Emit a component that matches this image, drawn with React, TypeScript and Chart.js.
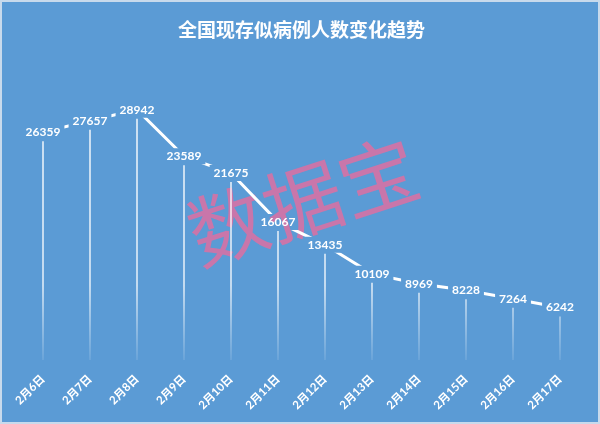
import React, { useEffect, useRef } from "react";
import { Chart, registerables } from "chart.js";

Chart.register(...registerables);

const categories = ["2月6日", "2月7日", "2月8日", "2月9日", "2月10日", "2月11日", "2月12日", "2月13日", "2月14日", "2月15日", "2月16日", "2月17日"];
const cases = [26359, 27657, 28942, 23589, 21675, 16067, 13435, 10109, 8969, 8228, 7264, 6242];
const titleText = "全国现存似病例人数变化趋势";
const watermarkText = "数据宝";

const BG = "#5b9bd5";
const LABEL_FONT = "bold 12px Lato, 'Open Sans', sans-serif";

const labelRects = (chart: any) => {
  const { ctx } = chart;
  const meta = chart.getDatasetMeta(0);
  const data = chart.data.datasets[0].data;
  ctx.save();
  ctx.font = LABEL_FONT;
  const rects = meta.data.map((p: any, i: number) => {
    const w = ctx.measureText(String(data[i])).width;
    return { x: p.x - w / 2 - 4, y: p.y - 8, w: w + 8, h: 16 };
  });
  ctx.restore();
  return rects;
};

const bgPlugin = {
  id: "bgPlugin",
  beforeDraw(chart: any) {
    const { ctx, width, height } = chart;
    ctx.save();
    ctx.fillStyle = BG;
    ctx.fillRect(0, 0, width, height);
    ctx.strokeStyle = "rgba(200,218,236,1)";
    ctx.lineWidth = 2;
    ctx.strokeRect(1, 1, width - 2, height - 2);
    ctx.restore();
  },
};

const watermarkPlugin = {
  id: "watermark",
  beforeDatasetsDraw(chart: any) {
    const { ctx } = chart;
    ctx.save();
    ctx.translate(303, 201);
    ctx.rotate((-18 * Math.PI) / 180);
    ctx.font = "79px 'Noto Sans CJK SC'";
    ctx.textAlign = "center";
    ctx.textBaseline = "middle";
    ctx.fillStyle = "rgba(238,105,155,0.75)";
    ctx.fillText(watermarkText, 0, 0);
    ctx.restore();
  },
};

const dropLinesPlugin = {
  id: "dropLines",
  beforeDatasetsDraw(chart: any) {
    const { ctx, chartArea } = chart;
    const meta = chart.getDatasetMeta(0);
    ctx.save();
    const g = ctx.createLinearGradient(0, chartArea.top, 0, chartArea.bottom);
    g.addColorStop(0, "rgba(255,255,255,0.95)");
    g.addColorStop(0.75, "rgba(255,255,255,0.85)");
    g.addColorStop(1, "rgba(255,255,255,0.1)");
    ctx.strokeStyle = g;
    ctx.lineWidth = 1.5;
    meta.data.forEach((p: any) => {
      ctx.beginPath();
      ctx.moveTo(p.x, p.y + 9);
      ctx.lineTo(p.x, chartArea.bottom - 2);
      ctx.stroke();
    });
    ctx.restore();
  },
};

const gapPlugin = {
  id: "labelGaps",
  beforeDatasetDraw(chart: any) {
    const { ctx, width, height } = chart;
    const rects = labelRects(chart);
    ctx.save();
    ctx.beginPath();
    ctx.rect(0, 0, width, height);
    rects.forEach((r: any) => {
      ctx.moveTo(r.x, r.y);
      ctx.lineTo(r.x, r.y + r.h);
      ctx.lineTo(r.x + r.w, r.y + r.h);
      ctx.lineTo(r.x + r.w, r.y);
      ctx.closePath();
    });
    ctx.clip("evenodd");
  },
  afterDatasetDraw(chart: any) {
    chart.ctx.restore();
  },
};

const labelsPlugin = {
  id: "pointLabels",
  afterDatasetsDraw(chart: any) {
    const { ctx } = chart;
    const meta = chart.getDatasetMeta(0);
    const data = chart.data.datasets[0].data;
    ctx.save();
    ctx.font = LABEL_FONT;
    ctx.textAlign = "center";
    ctx.textBaseline = "middle";
    ctx.fillStyle = "#ffffff";
    meta.data.forEach((p: any, i: number) => {
      ctx.fillText(String(data[i]), p.x, p.y);
    });
    ctx.restore();
  },
};

export default function App() {
  const ref = useRef<HTMLCanvasElement | null>(null);
  useEffect(() => {
    document.body.style.margin = "0";
    const canvas = ref.current;
    if (!canvas) return;
    const chart = new Chart(canvas, {
      type: "line",
      data: {
        labels: categories,
        datasets: [
          {
            data: cases,
            borderColor: "#ffffff",
            borderWidth: 3,
            pointRadius: 0,
            tension: 0,
            fill: false,
          },
        ],
      },
      options: {
        responsive: false,
        animation: false,
        layout: { padding: { left: 19.5, right: 16.5, top: 0, bottom: 0 } },
        plugins: {
          legend: { display: false },
          tooltip: { enabled: false },
          title: {
            display: true,
            text: titleText,
            color: "#ffffff",
            font: { family: "'Noto Sans CJK SC'", size: 19, weight: "bold", lineHeight: 1.2 },
            padding: { top: 18, bottom: 16 },
          },
        },
        scales: {
          x: {
            offset: true,
            grid: { display: false, drawTicks: false },
            border: { display: false },
            afterFit: (scale: any) => {
              scale.height = 62;
            },
            ticks: {
              color: "#ffffff",
              minRotation: 45,
              maxRotation: 45,
              padding: 10,
              autoSkip: false,
              font: { family: "Lato, 'Noto Sans CJK SC'", size: 11.5, weight: "bold" },
            },
          },
          y: {
            display: false,
            min: 0,
            max: 35000,
          },
        },
      },
      plugins: [bgPlugin, watermarkPlugin, dropLinesPlugin, gapPlugin, labelsPlugin],
    });
    return () => chart.destroy();
  }, []);
  return (
    <div style={{ width: 600, height: 424 }}>
      <canvas ref={ref} width={600} height={424} />
    </div>
  );
}
